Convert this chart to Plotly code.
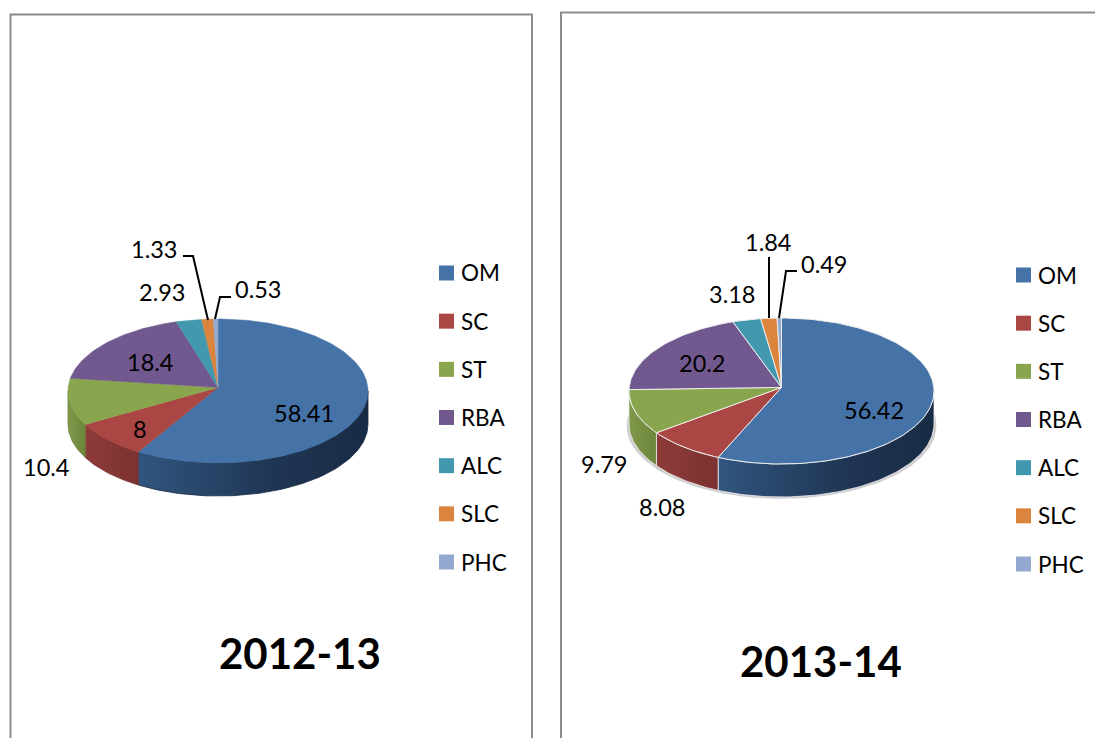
import math
import plotly.graph_objects as go

CATEGORIES = ["OM", "SC", "ST", "RBA", "ALC", "SLC", "PHC"]
VALUES_2012 = [58.41, 8, 10.4, 18.4, 2.93, 1.33, 0.53]
VALUES_2013 = [56.42, 8.08, 9.79, 20.2, 3.18, 1.84, 0.49]
LABELS_2012 = ["58.41", "8", "10.4", "18.4", "2.93", "1.33", "0.53"]
LABELS_2013 = ["56.42", "8.08", "9.79", "20.2", "3.18", "1.84", "0.49"]
TITLES = ["2012-13", "2013-14"]

COLORS = ["#4572A7", "#AA4643", "#89A54E", "#71588F", "#4198AF", "#DB843D", "#93A9CF"]
WALLS = {
    0: [[0, "#31557F"], [0.6, "#1F3553"], [1, "#182B44"]],
    1: [[0, "#8E3B39"], [1, "#7B3230"]],
    2: [[0, "#7F9848"], [1, "#6D863C"]],
    3: [[0, "#5D4877"], [1, "#5D4877"]],
}

W, H = 1095, 738
FONT = "Lato"
DEPTH = 33

PIES = [
    dict(values=VALUES_2012, labels=LABELS_2012, cx=218, cy=391, rx=150, ry=72, apex=3.6,
         border=None, shadow=False, title=TITLES[0], title_pos=(300, 653),
         legend_x=446.5, legend_y=(273, 562),
         label_pos=[(304, 413), (140, 429), (46, 467), (150, 362), (162, 292), (154, 249), (258, 289)]),
    dict(values=VALUES_2013, labels=LABELS_2013, cx=781.5, cy=391, rx=152.5, ry=73, apex=3.6,
         border="#EDEDED", shadow=True, title=TITLES[1], title_pos=(821, 661),
         legend_x=1023.5, legend_y=(275, 564),
         label_pos=[(874, 410), (662, 507), (604, 464), (702, 363), (732, 294), (768, 242), (824, 264)]),
]

LEADERS = [
    [(183, 256), (193, 256), (208, 320)],
    [(231, 297), (220, 297), (215, 319)],
    [(769, 257), (769, 318)],
    [(797, 271), (786, 271), (779, 318)],
]


def xp(px):
    return px / W


def yp(py):
    return 1 - py / H


def arc(a0, a1, dy=0.0, n=None):
    """Points on the unit ellipse; angles in degrees clockwise from the top."""
    n = n or max(2, int(abs(a1 - a0) / 1.5) + 2)
    xs, ys = [], []
    for i in range(n):
        a = math.radians(a0 + (a1 - a0) * i / (n - 1))
        xs.append(math.sin(a))
        ys.append(math.cos(a) - dy)
    return xs, ys


def tilt(theta, e):
    """Perspective: rim points crowd towards the back of the tilted pie."""
    return theta - math.degrees(1.3 * e * math.sin(math.radians(theta)))


fig = go.Figure()
layout_axes = {}

for p_i, pie in enumerate(PIES):
    ax_n = p_i * 2 + 1
    leg_n = p_i * 2 + 2
    xa = f"x{ax_n if ax_n > 1 else ''}"
    ya = f"y{ax_n if ax_n > 1 else ''}"
    cx, cy, rx, ry = pie["cx"], pie["cy"], pie["rx"], pie["ry"]
    depth_u = DEPTH / ry
    apex_u = pie["apex"] / ry
    top_u, bot_u = 1.2, 1.8

    hidden = dict(visible=False, showgrid=False, zeroline=False, fixedrange=True)
    layout_axes[f"xaxis{ax_n if ax_n > 1 else ''}"] = dict(
        hidden, range=[-1.15, 1.15], domain=[xp(cx - 1.15 * rx), xp(cx + 1.15 * rx)], anchor=ya)
    layout_axes[f"yaxis{ax_n if ax_n > 1 else ''}"] = dict(
        hidden, range=[-bot_u, top_u], domain=[yp(cy + bot_u * ry), yp(cy - top_u * ry)], anchor=xa)

    if pie["shadow"]:
        sx, sy = arc(0, 360, dy=depth_u + 0.025, n=180)
        sx = [v * 1.016 for v in sx]
        fig.add_trace(go.Scatter(x=sx, y=sy, xaxis=xa, yaxis=ya, mode="lines", fill="toself",
                                 fillcolor="#CFCFCF", line=dict(width=0), hoverinfo="skip"))

    total = sum(pie["values"])
    edges = [0.0]
    running = 0.0
    for v in pie["values"]:
        running += v / total * 360
        edges.append(tilt(running, apex_u))

    # side walls: only the front half of the rim is visible
    for i, v in enumerate(pie["values"]):
        a0, a1 = max(edges[i], 90), min(edges[i + 1], 270)
        if a1 <= a0:
            continue
        x1, y1 = arc(a0, a1)
        x2, y2 = arc(a1, a0, dy=depth_u)
        fig.add_trace(go.Scatter(
            x=x1 + x2 + x1[:1], y=y1 + y2 + y1[:1], xaxis=xa, yaxis=ya, mode="lines", fill="toself",
            fillgradient=dict(type="horizontal", colorscale=WALLS[i]),
            line=dict(width=0.8, color=pie["border"] or WALLS[i][-1][1]), hoverinfo="skip"))

    # top faces
    for i, v in enumerate(pie["values"]):
        x1, y1 = arc(edges[i], edges[i + 1])
        fig.add_trace(go.Scatter(
            x=[0] + x1 + [0], y=[apex_u] + y1 + [apex_u], xaxis=xa, yaxis=ya, mode="lines", fill="toself",
            fillcolor=COLORS[i], name=CATEGORIES[i],
            line=dict(width=1 if pie["border"] else 0.5, color=pie["border"] or COLORS[i]),
            hoverinfo="skip"))

    # legend drawn on its own small axes
    y0, y1 = pie["legend_y"]
    step = (y1 - y0) / (len(CATEGORIES) - 1)
    lx = f"x{leg_n}"
    ly = f"y{leg_n}"
    lx_left = pie["legend_x"]
    layout_axes[f"xaxis{leg_n}"] = dict(hidden, range=[0, 1], domain=[xp(lx_left), min(1, xp(lx_left + 70))], anchor=ly)
    layout_axes[f"yaxis{leg_n}"] = dict(
        hidden, type="category", categoryorder="array", categoryarray=CATEGORIES,
        range=[len(CATEGORIES) - 0.5, -0.5],
        domain=[yp(y1 + step / 2), yp(y0 - step / 2)], anchor=lx)
    fig.add_trace(go.Scatter(
        x=[0] * len(CATEGORIES), y=CATEGORIES, xaxis=lx, yaxis=ly, mode="markers",
        marker=dict(symbol="square", size=15, color=COLORS, line=dict(width=0)),
        cliponaxis=False, hoverinfo="skip"))
    for k, cat in enumerate(CATEGORIES):
        fig.add_annotation(x=xp(lx_left + 12.5), y=yp(y0 + k * step), xref="paper", yref="paper", text=cat,
                           showarrow=False, xanchor="left", yanchor="middle",
                           font=dict(family=FONT, size=22.5, color="#000000"))

annotations = []
for pie in PIES:
    for txt, (px, py) in zip(pie["labels"], pie["label_pos"]):
        annotations.append(dict(x=xp(px), y=yp(py), xref="paper", yref="paper", text=txt, showarrow=False,
                                xanchor="center", yanchor="middle",
                                font=dict(family=FONT, size=23.5, color="#000000")))
    annotations.append(dict(x=xp(pie["title_pos"][0]), y=yp(pie["title_pos"][1]), xref="paper", yref="paper",
                            text=f"<b>{pie['title']}</b>", showarrow=False, xanchor="center", yanchor="middle",
                            font=dict(family=FONT, size=42, color="#000000")))

shapes = []
for pts in LEADERS:
    path = "M " + " L ".join(f"{xp(a)} {yp(b)}" for a, b in pts)
    shapes.append(dict(type="path", path=path, xref="paper", yref="paper", layer="above",
                       line=dict(color="#000000", width=2)))

frame = dict(color="#8C8C8C", width=2)
frames = [
    [(10.5, H + 2), (10.5, 14.5), (532, 14.5), (532, H + 2)],
    [(561, H + 2), (561, 12.5), (W + 2, 12.5)],
]
for pts in frames:
    path = "M " + " L ".join(f"{xp(a)} {yp(b)}" for a, b in pts)
    shapes.append(dict(type="path", path=path, xref="paper", yref="paper", layer="below", line=frame))

fig.update_layout(
    width=W, height=H, margin=dict(l=0, r=0, t=0, b=0), showlegend=False,
    paper_bgcolor="#FFFFFF", plot_bgcolor="rgba(0,0,0,0)", hovermode=False,
    shapes=shapes, **layout_axes)
for a in annotations:
    fig.add_annotation(**a)

fig.write_html("out.html", config={"displayModeBar": False},
               post_script="document.body.style.margin='0';document.body.style.overflow='hidden';")
